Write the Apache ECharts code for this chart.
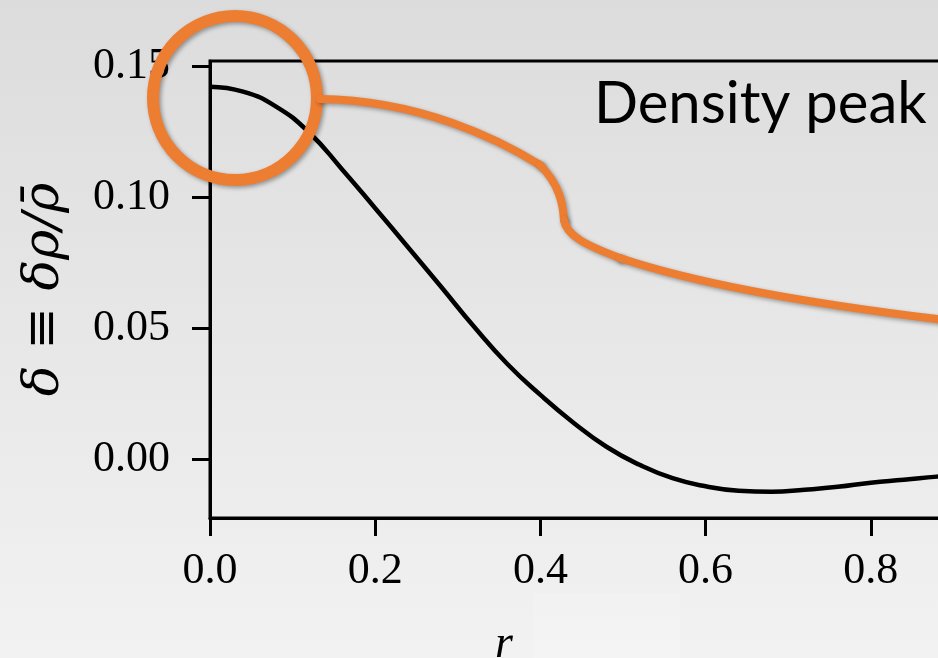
<!DOCTYPE html>
<html>
<head>
<meta charset="utf-8">
<script src="https://cdn.jsdelivr.net/npm/echarts@6/dist/echarts.min.js"></script>
<style>
html,body{margin:0;padding:0;background:#e8e8e8;}
#chart{width:938px;height:658px;}
</style>
</head>
<body>
<div id="chart"></div>
<script>
// radius values (r) and density contrast (delta)
const rValues = [0, 0.04, 0.08, 0.12, 0.16, 0.20, 0.24, 0.28, 0.32, 0.36, 0.40, 0.44, 0.48, 0.52, 0.56, 0.60, 0.64, 0.68, 0.72, 0.76, 0.80, 0.84, 0.88, 0.92];
const deltaValues = [0.1422, 0.1403, 0.1346, 0.1247, 0.1106, 0.0958, 0.0808, 0.0657, 0.0504, 0.0363, 0.0245, 0.0139, 0.0047, -0.0022, -0.0073, -0.0104, -0.0121, -0.0125, -0.0117, -0.0106, -0.0090, -0.0079, -0.0067, -0.0057];
const yTickValues = [0, 0.05, 0.10, 0.15];
const yAxisTitle = 'δ ≡ δρ/ρ\u0304';
const xAxisTitle = 'r';
const annotationText = 'Density peak';

const chart = echarts.init(document.getElementById('chart'), null, {renderer: 'canvas'});
const serif = '"Liberation Serif", "DejaVu Serif", serif';
const orange = '#ED7D31';
const shadow = {shadowColor: 'rgba(0,0,0,0.35)', shadowBlur: 4, shadowOffsetX: 2, shadowOffsetY: 2};
const connStyle = Object.assign({fill: 'none', stroke: orange, lineWidth: 8, lineCap: 'round'}, shadow);
function bez(p) {
  return {type: 'bezierCurve', z: 100, silent: true,
    shape: {x1: p[0], y1: p[1], cpx1: p[2], cpy1: p[3], cpx2: p[4], cpy2: p[5], x2: p[6], y2: p[7]},
    style: connStyle};
}

chart.setOption({
  animation: false,
  backgroundColor: new echarts.graphic.LinearGradient(0, 0, 0, 1, [
    {offset: 0, color: '#dcdcdc'},
    {offset: 1, color: '#f2f2f2'}
  ]),
  grid: {
    left: 210, top: 61, width: 826, height: 457,
    outerBoundsMode: 'none', containLabel: false,
    show: true, borderColor: '#000', borderWidth: 3, backgroundColor: 'transparent'
  },
  xAxis: {
    type: 'value', min: 0, max: 1.0, interval: 0.2,
    axisLine: {show: true, onZero: false, lineStyle: {color: '#000', width: 3}},
    axisTick: {show: true, inside: false, length: 18, lineStyle: {color: '#000', width: 3}},
    axisLabel: {
      margin: 31, color: '#000', fontFamily: serif, fontSize: 44,
      formatter: v => v.toFixed(1)
    },
    splitLine: {show: false}
  },
  yAxis: {
    type: 'value', min: -0.0225, max: 0.152,
    name: yAxisTitle, nameLocation: 'middle', nameGap: 140, nameRotate: 90,
    nameTextStyle: {color: '#000', fontFamily: '"DejaVu Serif", serif', fontStyle: 'italic', fontSize: 51},
    axisLine: {show: true, onZero: false, lineStyle: {color: '#000', width: 3}},
    axisTick: {show: true, inside: false, length: 18, lineStyle: {color: '#000', width: 3}, customValues: yTickValues},
    axisLabel: {
      margin: 40, color: '#000', fontFamily: serif, fontSize: 44,
      customValues: yTickValues,
      formatter: v => v.toFixed(2)
    },
    splitLine: {show: false}
  },
  series: [{
    type: 'line',
    data: rValues.map((r, i) => [r, deltaValues[i]]),
    showSymbol: false,
    smooth: true,
    lineStyle: {color: '#000', width: 4.5},
    z: 3
  }],
  graphic: [
    {type: 'rect', z: -1, silent: true, shape: {x: 533, y: 593, width: 147, height: 65}, style: {fill: 'rgba(255,255,255,0.15)'}},
    {type: 'text', z: 50, x: 495, y: 622, style: {text: xAxisTitle, font: 'italic 46px ' + serif, fill: '#000'}},
    {type: 'circle', z: 100, silent: true, shape: {cx: 235, cy: 98, r: 82}, style: Object.assign({fill: 'none', stroke: orange, lineWidth: 12}, shadow)},
    bez([320, 99, 420, 100, 500, 140, 540, 165]),
    bez([540, 165, 560, 185, 563, 205, 564, 220]),
    bez([564, 220, 566, 235, 585, 245, 620, 258]),
    bez([620, 258, 700, 285, 820, 305, 945, 320]),
    {type: 'text', z: 100, x: 594, y: 104, style: {text: annotationText, font: '58px Lato, "Open Sans", sans-serif', fill: '#000', verticalAlign: 'middle'}}
  ]
});
</script>
</body>
</html>
